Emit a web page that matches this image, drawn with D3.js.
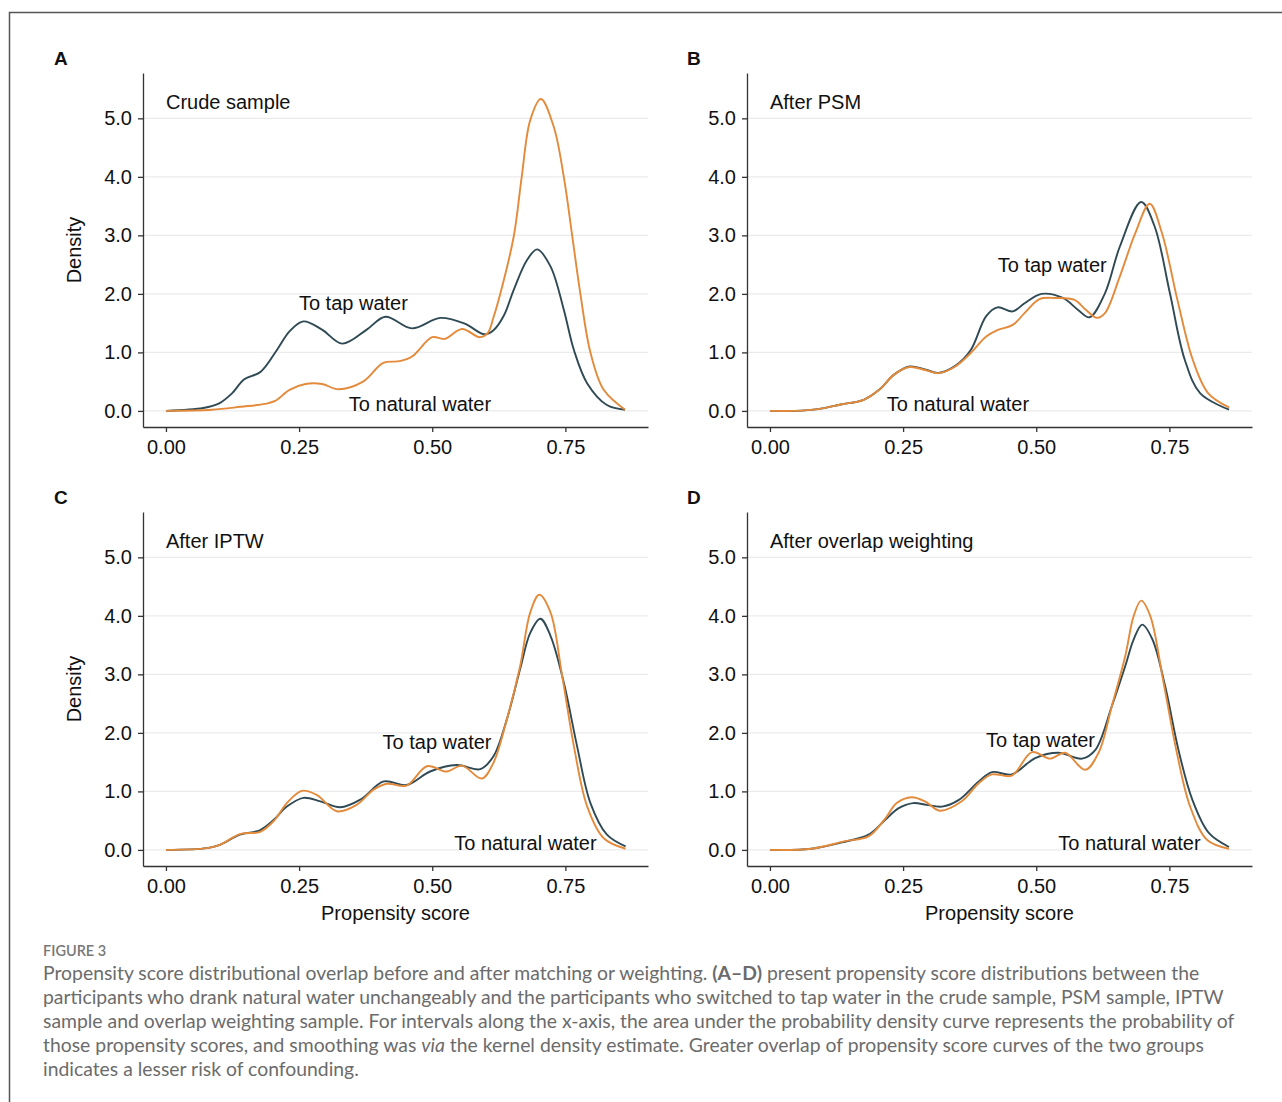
<!DOCTYPE html>
<html>
<head>
<meta charset="utf-8">
<script src="https://cdn.jsdelivr.net/npm/d3@7"></script>
<style>
  body { margin: 0; background: #fff; }
  svg text { font-family: "Liberation Sans", Arial, sans-serif; }
</style>
</head>
<body>
<svg id="fig" width="1282" height="1102"></svg>
<script>
// propensity score (x) / density (y)
var crudeTap = [[0,0],[0.07,0.05],[0.10,0.13],[0.124,0.30],[0.147,0.54],[0.178,0.67],[0.209,1.05],[0.232,1.36],[0.258,1.53],[0.293,1.39],[0.331,1.15],[0.377,1.39],[0.412,1.61],[0.462,1.41],[0.515,1.59],[0.561,1.49],[0.598,1.31],[0.615,1.38],[0.635,1.64],[0.653,2.07],[0.678,2.58],[0.697,2.76],[0.722,2.47],[0.747,1.73],[0.766,1.04],[0.791,0.47],[0.828,0.10],[0.862,0.02]]
var crudeNat = [[0,0],[0.086,0.02],[0.14,0.07],[0.186,0.12],[0.205,0.17],[0.232,0.36],[0.262,0.46],[0.293,0.46],[0.324,0.37],[0.37,0.50],[0.408,0.82],[0.439,0.85],[0.462,0.93],[0.50,1.26],[0.523,1.23],[0.556,1.40],[0.589,1.26],[0.604,1.33],[0.615,1.60],[0.628,2.01],[0.653,2.98],[0.668,4.0],[0.684,4.97],[0.704,5.33],[0.728,4.86],[0.747,4.0],[0.763,2.98],[0.778,2.01],[0.797,1.0],[0.822,0.36],[0.862,0.02]]

var psmTap = [[0,0],[0.047,0],[0.09,0.03],[0.133,0.11],[0.176,0.19],[0.205,0.36],[0.233,0.62],[0.262,0.76],[0.291,0.71],[0.316,0.65],[0.348,0.77],[0.377,1.04],[0.406,1.62],[0.427,1.77],[0.456,1.70],[0.478,1.84],[0.51,2.0],[0.55,1.93],[0.578,1.73],[0.60,1.60],[0.629,2.01],[0.657,2.81],[0.697,3.57],[0.722,3.16],[0.751,2.01],[0.779,0.87],[0.808,0.30],[0.862,0.02]]
var psmNat = [[0,0],[0.047,0],[0.09,0.03],[0.133,0.11],[0.176,0.19],[0.205,0.36],[0.233,0.62],[0.262,0.75],[0.291,0.70],[0.316,0.645],[0.348,0.76],[0.377,0.99],[0.406,1.27],[0.427,1.38],[0.456,1.47],[0.478,1.67],[0.506,1.91],[0.535,1.93],[0.571,1.90],[0.593,1.73],[0.614,1.59],[0.629,1.67],[0.657,2.30],[0.686,3.04],[0.713,3.54],[0.736,3.04],[0.765,1.90],[0.794,0.87],[0.823,0.30],[0.862,0.06]]

var iptwTap = [[0,0],[0.077,0.03],[0.101,0.086],[0.139,0.26],[0.177,0.34],[0.202,0.51],[0.227,0.74],[0.258,0.89],[0.29,0.83],[0.327,0.73],[0.365,0.86],[0.409,1.17],[0.452,1.11],[0.496,1.34],[0.546,1.45],[0.59,1.38],[0.615,1.60],[0.64,2.23],[0.665,3.09],[0.684,3.71],[0.703,3.95],[0.722,3.66],[0.747,2.86],[0.772,1.77],[0.797,0.80],[0.828,0.26],[0.863,0.06]]
var iptwNat = [[0,0],[0.077,0.03],[0.101,0.086],[0.139,0.27],[0.177,0.31],[0.202,0.49],[0.227,0.80],[0.255,1.01],[0.283,0.94],[0.321,0.66],[0.358,0.77],[0.39,1.03],[0.415,1.13],[0.452,1.10],[0.49,1.43],[0.527,1.34],[0.556,1.44],[0.593,1.22],[0.615,1.49],[0.64,2.23],[0.665,3.14],[0.684,4.06],[0.701,4.36],[0.722,4.06],[0.744,2.97],[0.766,1.77],[0.791,0.74],[0.822,0.20],[0.863,0.02]]

var owTap = [[0,0],[0.078,0.02],[0.141,0.14],[0.185,0.26],[0.216,0.51],[0.241,0.71],[0.269,0.80],[0.294,0.77],[0.323,0.74],[0.354,0.85],[0.392,1.17],[0.417,1.33],[0.454,1.29],[0.498,1.57],[0.542,1.66],[0.586,1.56],[0.611,1.71],[0.642,2.46],[0.667,3.14],[0.683,3.60],[0.699,3.85],[0.718,3.60],[0.742,2.80],[0.767,1.71],[0.793,0.86],[0.824,0.29],[0.862,0.05]]
var owNat = [[0,0],[0.078,0.02],[0.141,0.15],[0.185,0.23],[0.216,0.53],[0.238,0.80],[0.266,0.90],[0.291,0.83],[0.319,0.67],[0.36,0.83],[0.392,1.14],[0.417,1.29],[0.454,1.27],[0.492,1.67],[0.526,1.56],[0.554,1.66],[0.592,1.37],[0.617,1.66],[0.642,2.46],[0.667,3.31],[0.683,4.0],[0.697,4.26],[0.714,4.0],[0.739,2.86],[0.764,1.66],[0.789,0.74],[0.821,0.17],[0.862,0.02]]

var panelLetters = ["A", "B", "C", "D"]
var panelTitles = ["Crude sample", "After PSM", "After IPTW", "After overlap weighting"]
// label anchor [x, y] in data units: tap water, natural water
var tapLabelPos = [[0.352, 1.85], [0.53, 2.5], [0.509, 1.85], [0.508, 1.87]]
var natLabelPos = [[0.477, 0.12], [0.353, 0.12], [0.675, 0.12], [0.675, 0.12]]
var xTicks = [0, 0.25, 0.5, 0.75]
var yTicks = [0, 1, 2, 3, 4, 5]

var captionLines = [
  "participants who drank natural water unchangeably and the participants who switched to tap water in the crude sample, PSM sample, IPTW",
  "sample and overlap weighting sample. For intervals along the x-axis, the area under the probability density curve represents the probability of",
  null,
  "indicates a lesser risk of confounding."
]

var tapColor = "#2f4a55"
var natColor = "#e38a3b"

var panels = [
  { tap: crudeTap, nat: crudeNat, x0: 143, y0: 73, lx: 54 },
  { tap: psmTap, nat: psmNat, x0: 747, y0: 73, lx: 687 },
  { tap: iptwTap, nat: iptwNat, x0: 143, y0: 512, lx: 54 },
  { tap: owTap, nat: owNat, x0: 747, y0: 512, lx: 687 }
]

var width = 505, height = 354
var fs = "20px"
var svg = d3.select("#fig")

// frame
svg.append("path")
  .attr("d", "M9.5,1102 L9.5,12.5 L1282,12.5")
  .attr("fill", "none")
  .attr("stroke", "#555")
  .attr("stroke-width", 1.5)

var x = d3.scaleLinear().domain([-0.0431, 0.9051]).range([0, width])
var y = d3.scaleLinear().domain([-0.275, 5.775]).range([height, 0])

var line = d3.line()
  .x(function (d) { return x(d[0]) })
  .y(function (d) { return y(d[1]) })
  .curve(d3.curveCatmullRom.alpha(0.5))

panels.forEach(function (p, i) {
  var g = svg.append("g").attr("transform", "translate(" + p.x0 + "," + p.y0 + ")")

  // gridlines
  g.selectAll(".grid")
    .data(yTicks)
    .enter()
    .append("line")
    .attr("x1", 0).attr("x2", width)
    .attr("y1", function (d) { return y(d) })
    .attr("y2", function (d) { return y(d) })
    .attr("stroke", "#ebebeb")
    .attr("stroke-width", 1.2)

  var xAxis = g.append("g")
    .attr("transform", "translate(0," + height + ")")
    .call(d3.axisBottom(x).tickValues(xTicks).tickFormat(d3.format(".2f")).tickSize(5).tickSizeOuter(0).tickPadding(8))
  var yAxis = g.append("g")
    .call(d3.axisLeft(y).tickValues(yTicks).tickFormat(d3.format(".1f")).tickSize(5).tickSizeOuter(0).tickPadding(6))

  ;[xAxis, yAxis].forEach(function (a) {
    a.select(".domain").attr("stroke", "#333").attr("stroke-width", 1.3)
    a.selectAll(".tick line").attr("stroke", "#333").attr("stroke-width", 1.3)
    a.selectAll("text").attr("fill", "#111").style("font-size", fs)
      .style("font-family", "Liberation Sans, Arial, sans-serif")
  })

  g.append("path").datum(p.tap)
    .attr("d", line)
    .attr("fill", "none")
    .attr("stroke", tapColor)
    .attr("stroke-width", 1.9)
  g.append("path").datum(p.nat)
    .attr("d", line)
    .attr("fill", "none")
    .attr("stroke", natColor)
    .attr("stroke-width", 1.9)

  g.append("text")
    .attr("x", x(0)).attr("y", y(5.28))
    .attr("dy", "0.35em")
    .style("font-size", fs)
    .attr("fill", "#111")
    .text(panelTitles[i])

  g.append("text")
    .attr("x", x(tapLabelPos[i][0])).attr("y", y(tapLabelPos[i][1]))
    .attr("dy", "0.35em")
    .attr("text-anchor", "middle")
    .style("font-size", fs)
    .attr("fill", "#111")
    .text("To tap water")
  g.append("text")
    .attr("x", x(natLabelPos[i][0])).attr("y", y(natLabelPos[i][1]))
    .attr("dy", "0.35em")
    .attr("text-anchor", "middle")
    .style("font-size", fs)
    .attr("fill", "#111")
    .text("To natural water")

  // panel letter
  svg.append("text")
    .attr("x", p.lx).attr("y", p.y0 - 15)
    .attr("dy", "0.35em")
    .style("font-size", "19px")
    .style("font-weight", "bold")
    .attr("fill", "#111")
    .text(panelLetters[i])

  if (i % 2 === 0) {
    svg.append("text")
      .attr("transform", "translate(" + (p.x0 - 69) + "," + (p.y0 + height / 2) + ") rotate(-90)")
      .attr("text-anchor", "middle")
      .attr("dy", "0.35em")
      .style("font-size", fs)
      .attr("fill", "#111")
      .text("Density")
  }
  if (i >= 2) {
    svg.append("text")
      .attr("x", p.x0 + width / 2).attr("y", p.y0 + height + 47)
      .attr("text-anchor", "middle")
      .attr("dy", "0.35em")
      .style("font-size", fs)
      .attr("fill", "#111")
      .text("Propensity score")
  }
})

// caption
var cap = svg.append("g").attr("fill", "#6b6b6b")
cap.append("text")
  .attr("x", 43).attr("y", 956)
  .style("font-size", "14.5px")
  .style("font-family", "Lato, sans-serif")
  .style("font-weight", "600")
  .attr("fill", "#777")
  .text("FIGURE 3")

var capRows = []
var capText = function (i) {
  var t = cap.append("text").attr("x", 43).attr("y", 980 + i * 24).style("font-size", "18px")
    .style("font-family", "Lato, sans-serif")
  capRows.push(t)
  return t
}
var t0 = capText(0)
t0.append("tspan").text("Propensity score distributional overlap before and after matching or weighting. ")
t0.append("tspan").style("font-weight", "bold").text("(A\u2013D)")
t0.append("tspan").text(" present propensity score distributions between the")
capText(1).text(captionLines[0])
capText(2).text(captionLines[1])
var t3 = capText(3)
t3.append("tspan").text("those propensity scores, and smoothing was ")
t3.append("tspan").style("font-style", "italic").text("via")
t3.append("tspan").text(" the kernel density estimate. Greater overlap of propensity score curves of the two groups")
capText(4).text(captionLines[3])

// size the caption font so the first line spans the same width as in the figure
var w0 = t0.node().getComputedTextLength()
var capSize = 18 * 1157 / w0
capRows.forEach(function (t) { t.style("font-size", capSize + "px") })
</script>
</body>
</html>
